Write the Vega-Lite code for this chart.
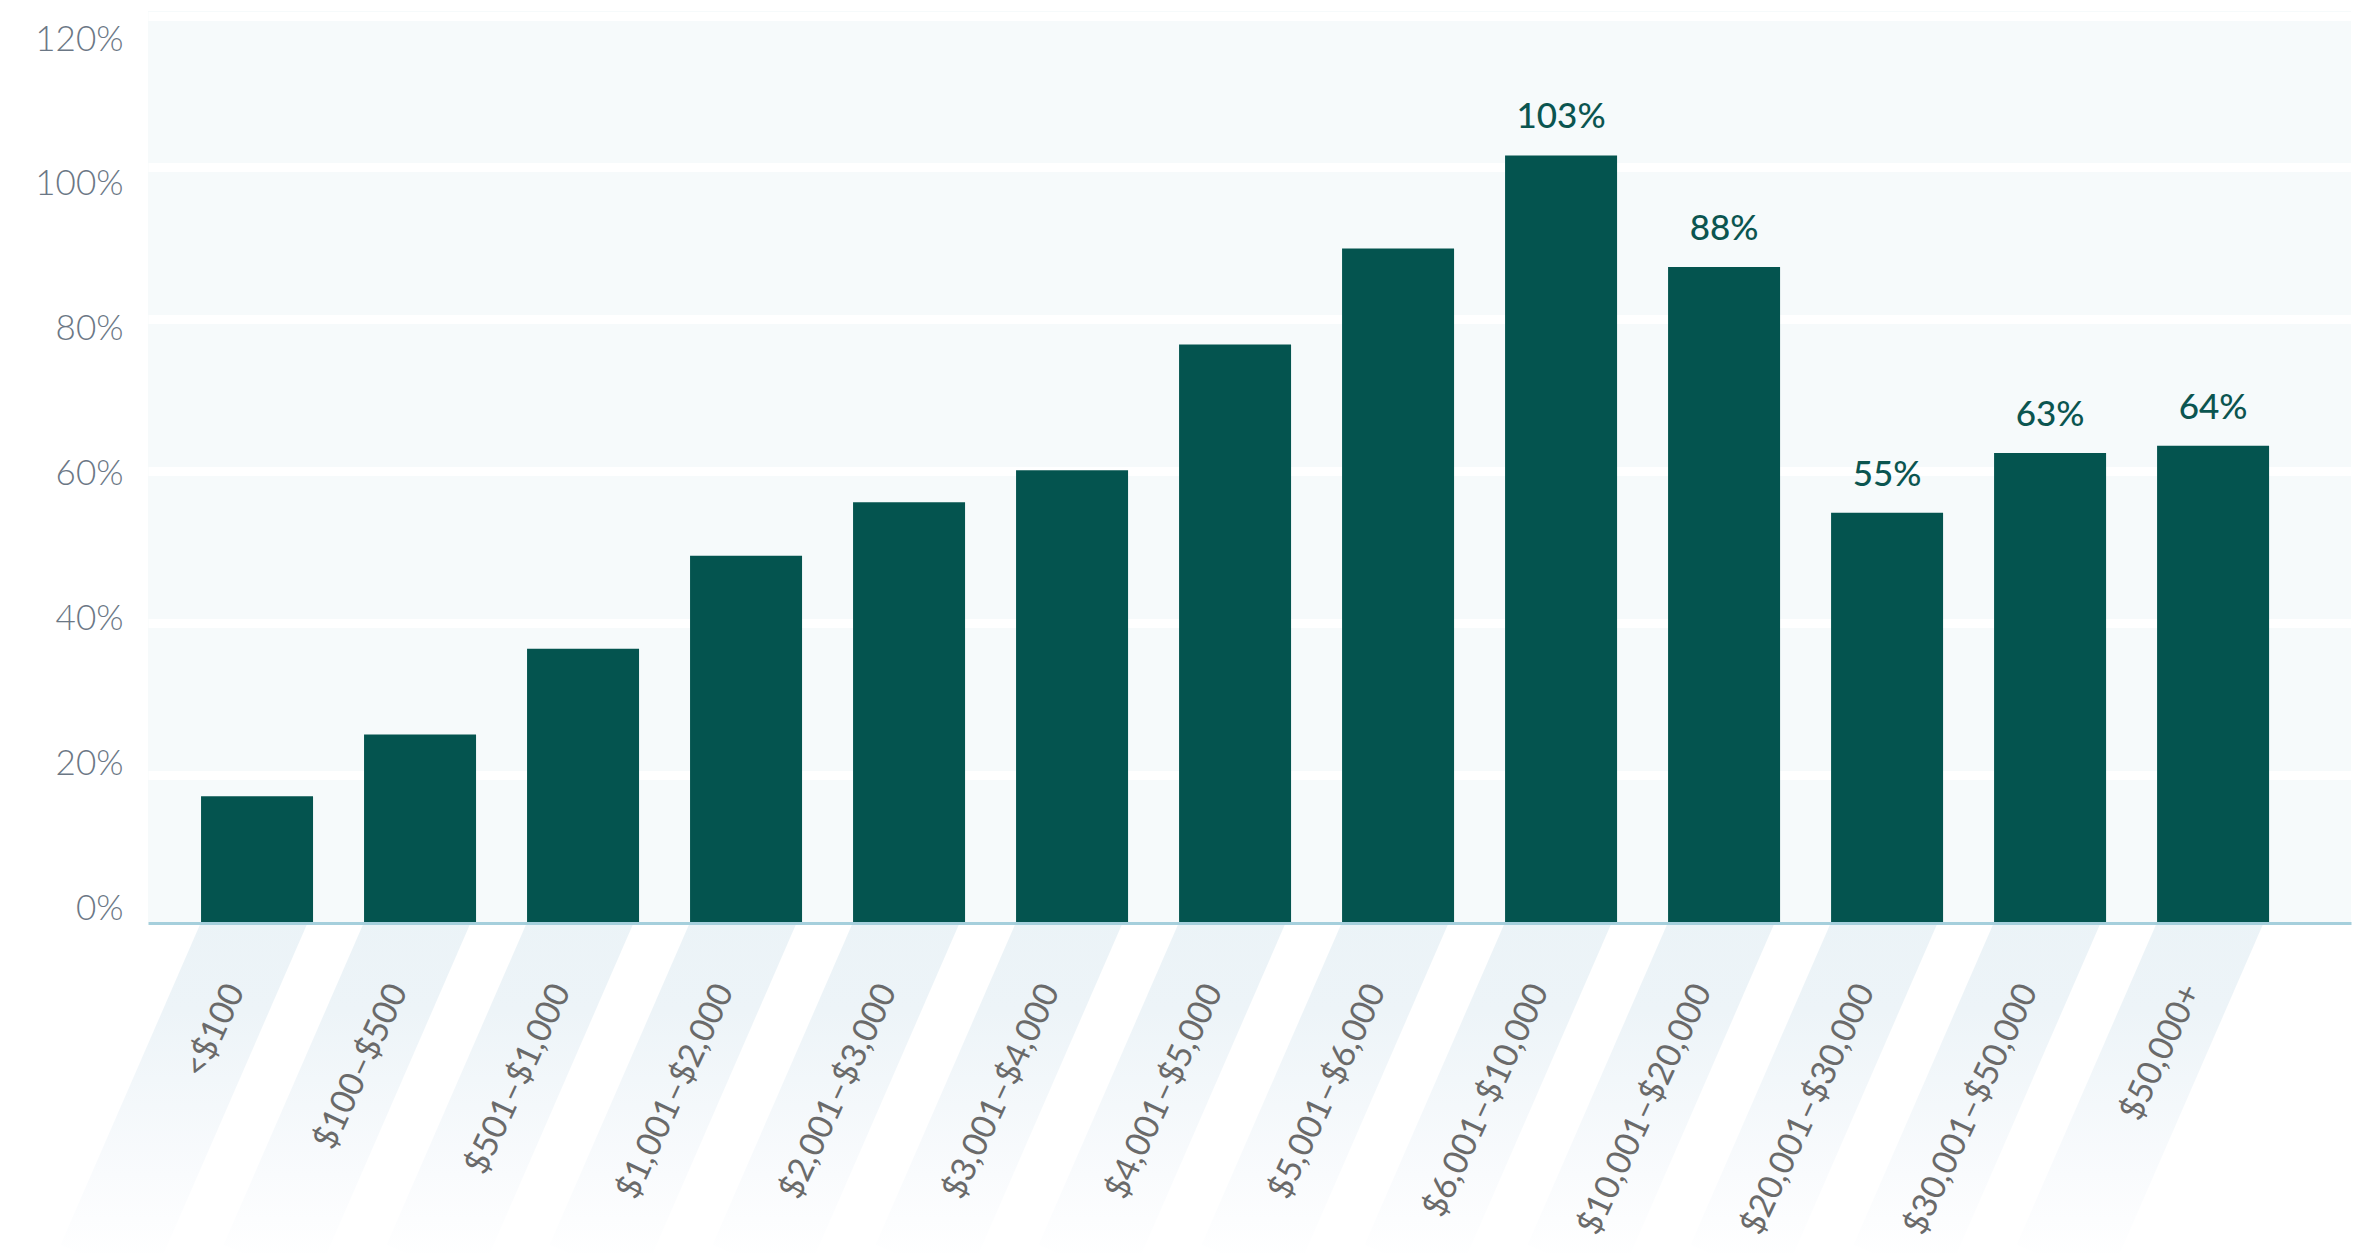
{
  "$schema": "https://vega.github.io/schema/vega-lite/v6.json",
  "autosize": {"type": "none"},
  "padding": {"left": 148, "top": 11, "right": 16, "bottom": 331},
  "width": 2203,
  "height": 911,
  "background": "#ffffff",
  "config": {"view": {"fill": "#F6FAFB", "stroke": null}, "font": "Lato"},
  "data": {
    "values": [
      {"cat": "<$100", "value": 16.9, "label": ""},
      {"cat": "$100–$500", "value": 25.2, "label": ""},
      {"cat": "$501–$1,000", "value": 36.7, "label": ""},
      {"cat": "$1,001–$2,000", "value": 49.2, "label": ""},
      {"cat": "$2,001–$3,000", "value": 56.4, "label": ""},
      {"cat": "$3,001–$4,000", "value": 60.7, "label": ""},
      {"cat": "$4,001–$5,000", "value": 77.6, "label": ""},
      {"cat": "$5,001–$6,000", "value": 90.5, "label": ""},
      {"cat": "$6,001–$10,000", "value": 103, "label": "103%"},
      {"cat": "$10,001–$20,000", "value": 88, "label": "88%"},
      {"cat": "$20,001–$30,000", "value": 55, "label": "55%"},
      {"cat": "$30,001–$50,000", "value": 63, "label": "63%"},
      {"cat": "$50,000+", "value": 64, "label": "64%"}
    ]
  },
  "encoding": {
    "x": {
      "field": "cat",
      "type": "nominal",
      "sort": null,
      "scale": {"paddingInner": 0.3129, "paddingOuter": 0.414, "align": 0.393},
      "axis": {
        "title": null,
        "labelAngle": -65,
        "labelAlign": "right",
        "labelBaseline": "middle",
        "labelFontSize": 34,
        "labelFont": "Lato",
        "labelFontWeight": 400,
        "labelColor": "#6A6A6A",
        "labelPadding": 63,
        "labelOffset": -21,
        "labelLimit": 0,
        "labelOverlap": false,
        "ticks": false,
        "tickSize": 0,
        "domain": true,
        "domainColor": "#A5CFDC",
        "domainWidth": 3,
        "offset": 1,
        "zindex": 1
      }
    }
  },
  "layer": [
    {
      "mark": {"type": "point", "opacity": 0},
      "encoding": {
        "y": {
          "field": "value",
          "type": "quantitative",
          "scale": {"domain": [0, 120], "nice": false},
          "axis": {
            "orient": "right",
            "grid": true,
            "gridColor": "#ffffff",
            "gridWidth": 9,
            "gridOpacity": 1,
            "values": [20, 40, 60, 80, 100, 120],
            "tickOffset": 4.5,
            "labels": false,
            "ticks": false,
            "domain": false,
            "title": null
          }
        }
      }
    },
    {
      "mark": {"type": "point", "opacity": 0},
      "encoding": {
        "y": {
          "field": "value",
          "type": "quantitative",
          "scale": {"domain": [0, 120], "range": [897, 28], "nice": false},
          "axis": {
            "orient": "left",
            "grid": false,
            "values": [0, 20, 40, 60, 80, 100, 120],
            "labelExpr": "datum.value + '%'",
            "labelFontSize": 35,
            "labelFont": "Lato",
            "labelFontWeight": 300,
            "labelColor": "#6B7785",
            "labelPadding": 25,
            "ticks": false,
            "tickSize": 0,
            "domain": false,
            "title": null
          }
        }
      }
    },
    {
      "layer": [
        {
          "mark": {
            "type": "rule",
            "strokeWidth": 98,
            "strokeCap": "butt",
            "xOffset": 6.2,
            "yOffset": -20,
            "x2Offset": -151.5,
            "stroke": {
              "gradient": "linear",
              "x1": 0, "y1": 0, "x2": 0, "y2": 1,
              "stops": [
                {"offset": 0, "color": "#EBF3F7"},
                {"offset": 0.3, "color": "#EDF4F8"},
                {"offset": 0.75, "color": "#F9FBFD"},
                {"offset": 1, "color": "#FFFFFF"}
              ]
            }
          },
          "encoding": {
            "x2": {"field": "cat"},
            "y": {"datum": 0, "type": "quantitative", "scale": {"domain": [0, 122.4], "nice": false}, "axis": null},
            "y2": {"datum": -46}
          }
        },
        {
          "mark": {"type": "bar", "color": "#04544F"},
          "encoding": {
            "y": {"field": "value", "type": "quantitative", "axis": null}
          }
        },
        {
          "mark": {"type": "text", "dy": -27, "baseline": "alphabetic", "fontSize": 35, "font": "Lato", "fontWeight": 500, "color": "#0B5550"},
          "encoding": {
            "y": {"field": "value", "type": "quantitative", "axis": null},
            "text": {"field": "label"}
          }
        }
      ]
    }
  ],
  "resolve": {"scale": {"y": "independent"}, "axis": {"y": "independent"}}
}
